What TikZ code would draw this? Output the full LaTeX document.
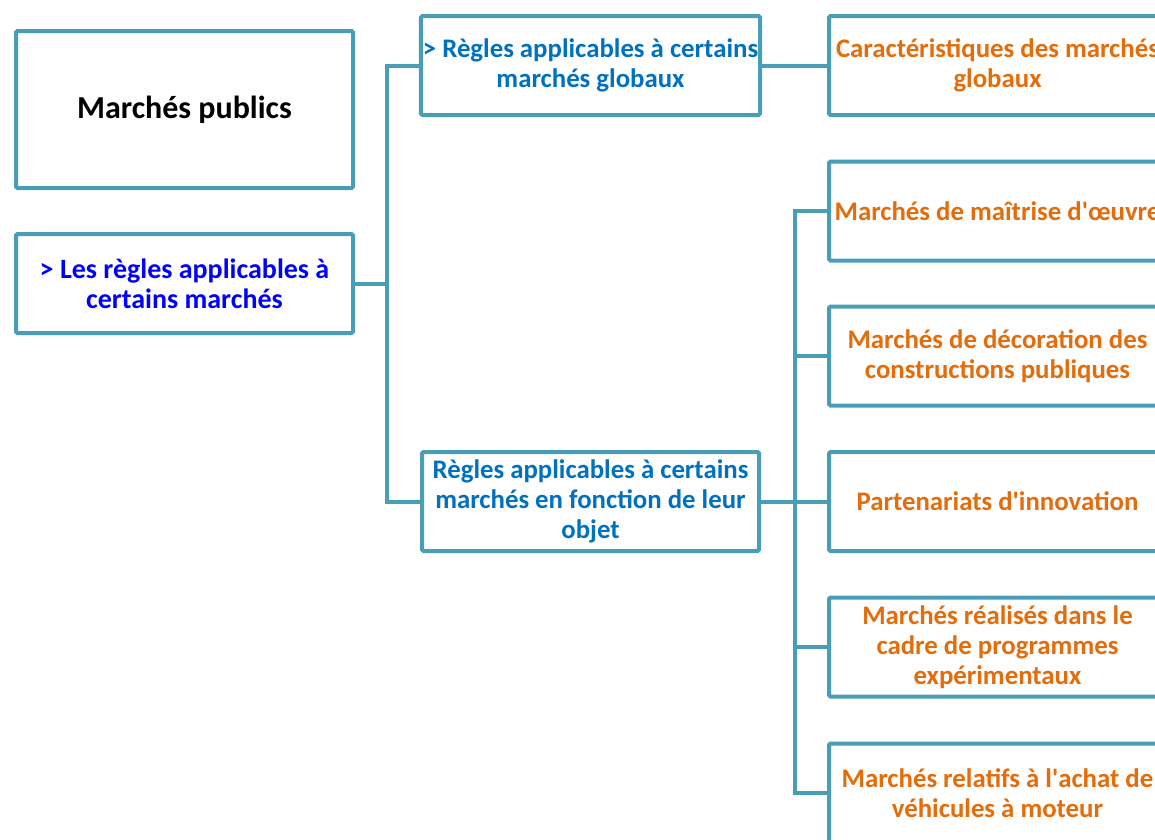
\documentclass[tikz,border=0pt]{standalone}
\usepackage{fontspec}
\setmainfont{Carlito}
\usetikzlibrary{positioning}
\definecolor{cadre}{RGB}{74,157,182}
\definecolor{orangef}{RGB}{228,108,10}
\definecolor{bleuf}{RGB}{0,112,192}
\definecolor{bleuvif}{RGB}{0,0,255}
\begin{document}
\begin{tikzpicture}[
      x=1pt,y=-1pt,
      every node/.style={font=\fontsize{26.8}{30}\selectfont\bfseries},
      boite/.style={draw=cadre,line width=4pt,rounded corners=1.5pt,fill=white,minimum width=337pt,minimum height=99pt,inner sep=2pt,align=center},
      lien/.style={draw=cadre,line width=4pt}
    ]
    \clip (0,0) rectangle (1155,839);
    % colonne gauche
    \node[boite,minimum height=157pt,font=\fontsize{32}{36}\selectfont\bfseries] (mp) at (184.5,109.5) {Marchés publics};
    \node[boite,text=bleuvif,font=\fontsize{28}{30}\selectfont\bfseries] (regles) at (184.5,283.5) {> Les règles applicables à\\ certains marchés};
    % colonne du milieu
    \node[boite,text=bleuf] (glob) at (590.5,65.5) {> Règles applicables à certains\\ marchés globaux};
    \node[boite,text=bleuf] (objet) at (590.5,501.5) {Règles applicables à certains\\ marchés en fonction de leur\\ objet};
    % colonne droite
    \node[boite,text=orangef] (carac) at (997.5,65.5) {Caractéristiques des marchés\\ globaux};
    \node[boite,text=orangef] (moe) at (997.5,211) {Marchés de maîtrise d\textquotesingle œuvre};
    \node[boite,text=orangef] (deco) at (997.5,356) {Marchés de décoration des\\ constructions publiques};
    \node[boite,text=orangef] (innov) at (997.5,501.5) {Partenariats d\textquotesingle innovation};
    \node[boite,text=orangef] (prog) at (997.5,647) {Marchés réalisés dans le\\ cadre de programmes\\ expérimentaux};
    \node[boite,text=orangef] (vehic) at (997.5,793) {Marchés relatifs à l\textquotesingle achat de\\ véhicules à moteur};
    % liens
    \draw[lien] (regles.east) -- ++(32,0) |- (glob.west);
    \draw[lien] (regles.east) ++(32,0) |- (objet.west);
    \draw[lien] (glob.east) -- (carac.west);
    \draw[lien] (objet.east) -- ++(34,0);
    \foreach \b in {moe,deco,innov,prog,vehic}{\draw[lien] (objet.east) ++(34,0) |- (\b.west);}
  \end{tikzpicture}
\end{document}
